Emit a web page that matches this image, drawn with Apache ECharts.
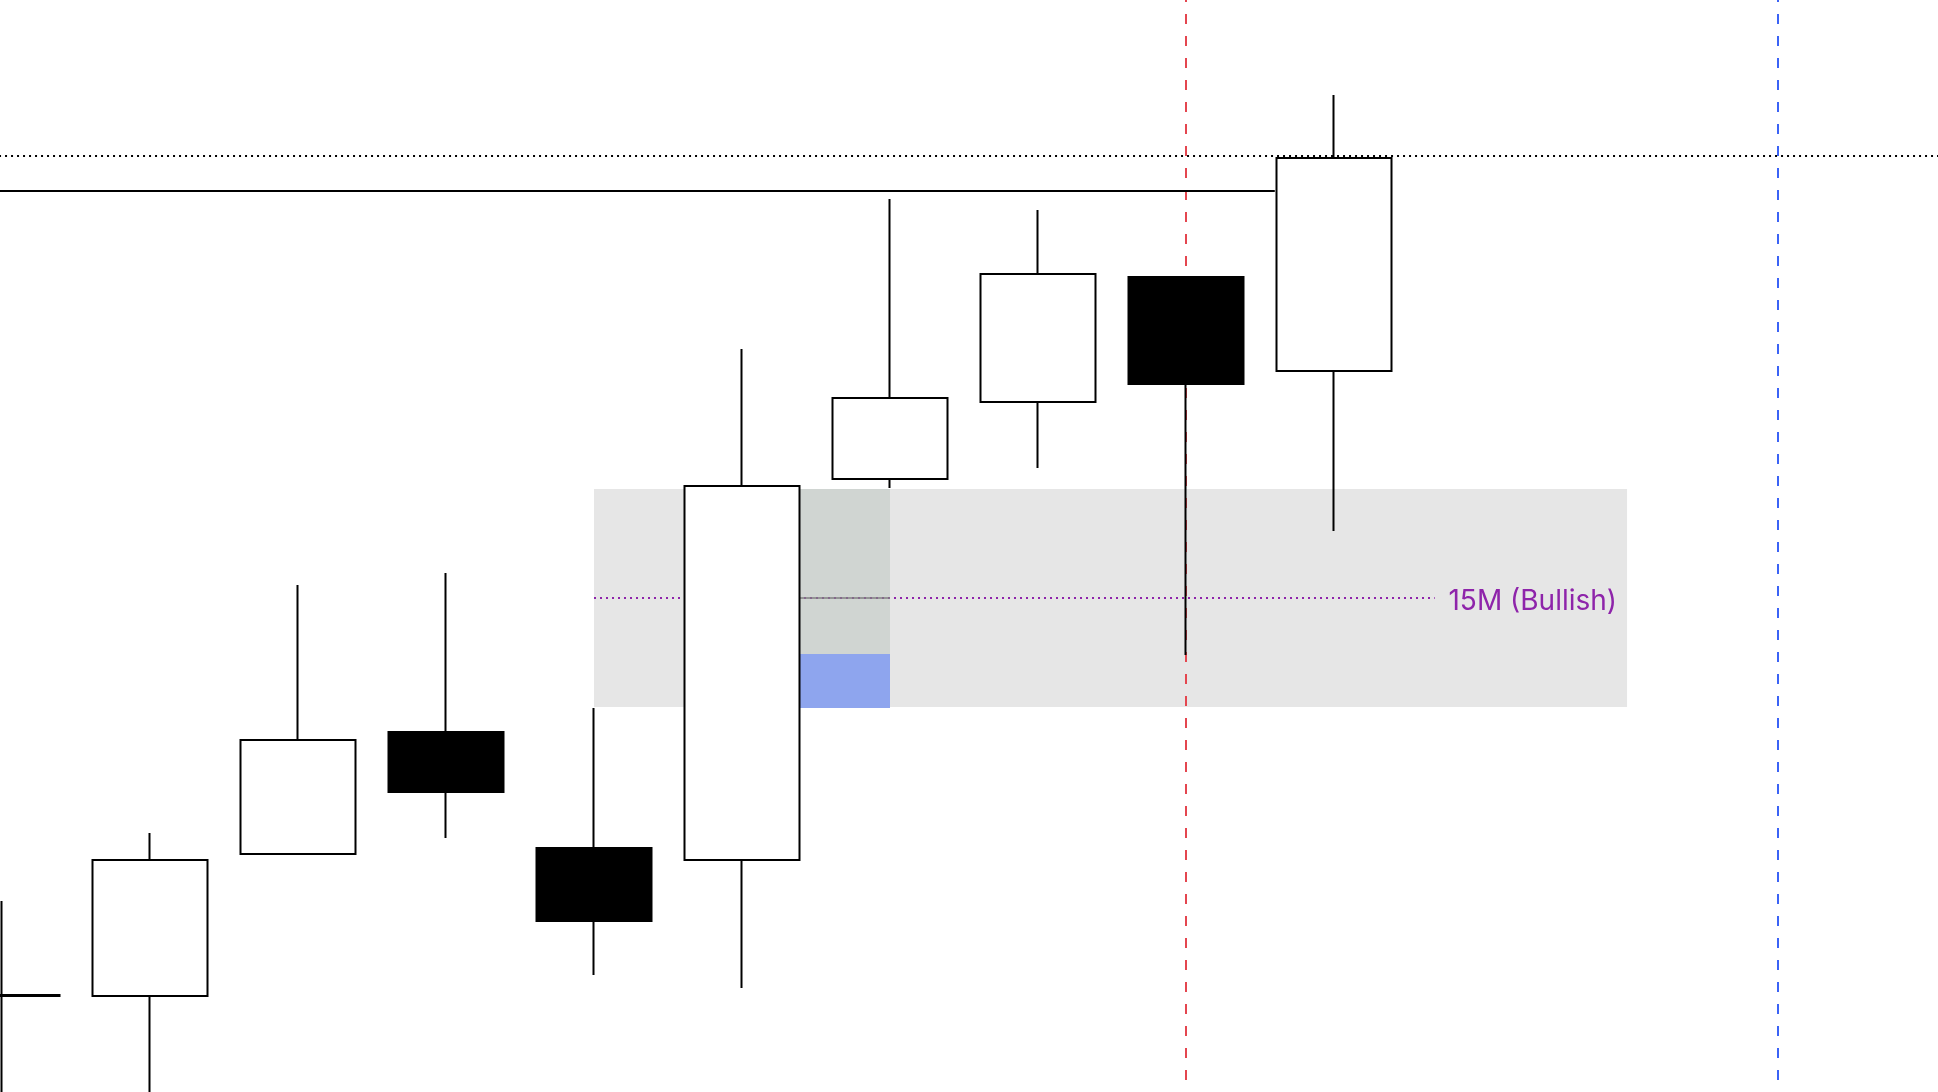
<!DOCTYPE html>
<html>
<head>
<meta charset="utf-8">
<style>
  html, body { margin: 0; padding: 0; background: #ffffff; }
  #chart { width: 1938px; height: 1092px; }
</style>
<script src="https://cdn.jsdelivr.net/npm/echarts@6/dist/echarts.min.js"></script>
</head>
<body>
<div id="chart"></div>
<script>
// ---------- data (price units, arbitrary scale) ----------
const categories = ['1','2','3','4','5','6','7','8','9','10','11','12','13','14'];
const opens  = [96,  96, 238, 360, 244, 232, 613, 690, 815, 721];
const closes = [97, 232, 352, 300, 171, 606, 694, 818, 708, 934];
const lows   = [-40, -40, 238, 254, 117, 104, 604, 624, 437, 561];
const highs  = [191, 259, 507, 519, 384, 743, 893, 882, 815, 997];

// order-block zone (x in candle index, y in price)
const zoneX = [4, 10.98];
const zoneY = [385, 603];
// fair value gap part of the zone
const fvgX = [5, 6];
const fvgY = [438, 603];
const fvgBaseY = [384, 438];
// zone midline
const midLevel = 494;
const midX = [4, 9.68];
const zoneLabel = '15M (Bullish)';
// previous high (solid) and top level (dotted)
const prevHigh = 901;
const prevHighX = [-0.02, 8.6];
const topLevel = 936;
const topLevelX = [-0.02, 13.1];
// vertical session markers
const redMarkerX = 8;
const blueMarkerX = 12;

const candleData = opens.map((o, i) => [o, closes[i], lows[i], highs[i]]);

function rectRender(fill) {
  return function (params, api) {
    const p0 = api.coord([api.value(0), api.value(3)]);
    const p1 = api.coord([api.value(1), api.value(2)]);
    return { type: 'rect', shape: { x: p0[0], y: p0[1], width: p1[0] - p0[0], height: p1[1] - p0[1] }, style: { fill: fill } };
  };
}
function hLineRender(style) {
  return function (params, api) {
    const p0 = api.coord([api.value(0), api.value(2)]);
    const p1 = api.coord([api.value(1), api.value(2)]);
    return { type: 'line', shape: { x1: p0[0], y1: p0[1], x2: p1[0], y2: p1[1] }, style: style };
  };
}
function vLineRender(style) {
  return function (params, api) {
    const x = api.coord([api.value(0), 0])[0];
    return { type: 'line', shape: { x1: x, y1: 0, x2: x, y2: 1092 }, style: style };
  };
}

const chart = echarts.init(document.getElementById('chart'));
chart.setOption({
  animation: false,
  backgroundColor: '#ffffff',
  grid: { left: 2, right: 12, top: 0, bottom: 0 },
  xAxis: [
    { type: 'category', data: categories, boundaryGap: false, show: false },
    { type: 'value', min: 0, max: 13, show: false }
  ],
  yAxis: [{ type: 'value', min: 0, max: 1092, show: false, splitLine: { show: false } }],
  series: [
    { type: 'custom', xAxisIndex: 1, z: 1, clip: false, silent: true,
      renderItem: rectRender('#e6e6e6'), data: [[zoneX[0], zoneX[1], zoneY[0], zoneY[1]]] },
    { type: 'custom', xAxisIndex: 1, z: 2, clip: false, silent: true,
      renderItem: rectRender('#d0d5d2'), data: [[fvgX[0], fvgX[1], fvgY[0], fvgY[1]]] },
    { type: 'custom', xAxisIndex: 1, z: 2, clip: false, silent: true,
      renderItem: rectRender('#8ea5ee'), data: [[fvgX[0], fvgX[1], fvgBaseY[0], fvgBaseY[1]]] },
    { type: 'custom', xAxisIndex: 1, z: 3, clip: false, silent: true,
      renderItem: hLineRender({ stroke: '#8e24aa', lineWidth: 2, lineDash: [2, 4] }),
      data: [[midX[0], midX[1], midLevel]] },
    { type: 'custom', xAxisIndex: 1, z: 4, clip: false, silent: true,
      renderItem: hLineRender({ stroke: 'rgba(128,128,128,0.75)', lineWidth: 2 }),
      data: [[fvgX[0], fvgX[1], midLevel]] },
    { type: 'custom', xAxisIndex: 1, z: 5, clip: false, silent: true,
      renderItem: vLineRender({ stroke: '#e4464f', lineWidth: 2, lineDash: [10, 12], lineDashOffset: 8 }),
      data: [[redMarkerX]] },
    { type: 'custom', xAxisIndex: 1, z: 5, clip: false, silent: true,
      renderItem: vLineRender({ stroke: '#3b63f6', lineWidth: 2, lineDash: [10, 12], lineDashOffset: 8 }),
      data: [[blueMarkerX]] },
    { type: 'custom', xAxisIndex: 1, z: 5, clip: false, silent: true,
      renderItem: hLineRender({ stroke: '#000000', lineWidth: 2 }),
      data: [[prevHighX[0], prevHighX[1], prevHigh]] },
    { type: 'custom', xAxisIndex: 1, z: 5, clip: false, silent: true,
      renderItem: hLineRender({ stroke: '#000000', lineWidth: 2, lineDash: [2, 4] }),
      data: [[topLevelX[0], topLevelX[1], topLevel]] },
    { type: 'candlestick', z: 10, clip: false, barWidth: 116,
      data: candleData,
      itemStyle: { color: '#ffffff', color0: '#000000', borderColor: '#000000', borderColor0: '#000000', borderWidth: 2 } },
    { type: 'custom', xAxisIndex: 1, z: 11, clip: false, silent: true,
      renderItem: function (params, api) {
        const p = api.coord([api.value(0), api.value(1)]);
        return { type: 'text', x: p[0] - 10, y: p[1] + 4,
          style: { text: zoneLabel, fill: '#8e24aa', font: '28px Inter', align: 'right', verticalAlign: 'middle' } };
      },
      data: [[zoneX[1], midLevel]] }
  ]
});
</script>
</body>
</html>
